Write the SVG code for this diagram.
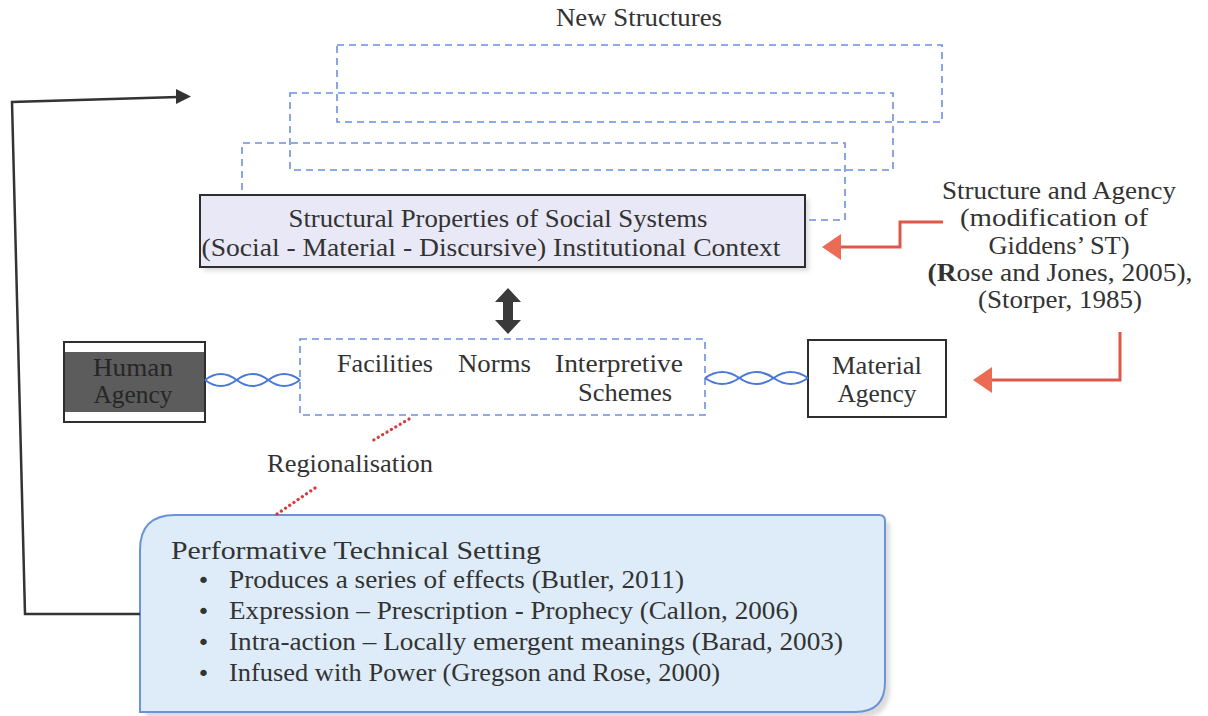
<svg xmlns="http://www.w3.org/2000/svg" width="1208" height="716" viewBox="0 0 1208 716">
  <defs>
    <style>
      .t { font-family: "Liberation Serif", "DejaVu Serif", serif; font-size: 25px; fill: #333; }
      .c { text-anchor: middle; }
      .bullet { font-family: "DejaVu Sans", sans-serif; font-size: 22px; fill: #333; }
      .dash { fill: none; stroke: #6b8fdf; stroke-width: 1.6; stroke-dasharray: 7 5; }
      .rope { fill: none; stroke: #4a78d8; stroke-width: 2; }
      .ropeshadow { fill: none; stroke: #b8b0c8; stroke-width: 3; opacity: 0.6; }
      .red { fill: none; stroke: #e0564a; stroke-width: 3; }
      .head { fill: #ec6b55; }
      .dots { fill: none; stroke: #d83a3a; stroke-width: 3.2; stroke-dasharray: 0.1 5; stroke-linecap: round; }
      .box { stroke: #2e2e2e; stroke-width: 2; }
    </style>
    <filter id="soft" x="-10%" y="-10%" width="130%" height="130%">
      <feGaussianBlur stdDeviation="2"/>
    </filter>
  </defs>

  <!-- overlapping dashed frames for the new structures -->
  <g id="new-structures">
    <text class="t c" x="639" y="26" font-size="23" textLength="166" lengthAdjust="spacingAndGlyphs">New Structures</text>
    <rect class="dash" x="337" y="45" width="605" height="77"/>
    <rect class="dash" x="290" y="93" width="603" height="77"/>
    <path class="dash" d="M242,190 V143 H845 V220 H805"/>
  </g>

  <!-- structural properties box -->
  <g id="structural-properties">
    <rect x="204" y="199" width="605" height="72" fill="#aaa" opacity="0.4" filter="url(#soft)"/>
    <rect class="box" x="200" y="195" width="605" height="72" fill="#e9e8f6"/>
    <text class="t c" x="498" y="227" textLength="419" lengthAdjust="spacingAndGlyphs">Structural Properties of Social Systems</text>
    <text class="t c" x="491" y="256" textLength="579" lengthAdjust="spacingAndGlyphs">(Social - Material - Discursive) Institutional Context</text>
  </g>

  <!-- human agency -->
  <g id="human-agency">
    <rect class="box" x="64" y="342" width="141" height="80" fill="#ffffff"/>
    <rect x="65" y="352" width="139" height="60" fill="#5c5c5c"/>
    <text class="t c" x="133" y="376" style="fill:#262626" font-size="26" textLength="80" lengthAdjust="spacingAndGlyphs">Human</text>
    <text class="t c" x="133" y="403" style="fill:#262626" font-size="26" textLength="79" lengthAdjust="spacingAndGlyphs">Agency</text>
  </g>

  <!-- facilities / norms / interpretive schemes -->
  <g id="modalities">
    <rect class="dash" x="300" y="339" width="405" height="76"/>
    <text class="t" x="337" y="372" textLength="96" lengthAdjust="spacingAndGlyphs">Facilities</text>
    <text class="t" x="458" y="372" textLength="73" lengthAdjust="spacingAndGlyphs">Norms</text>
    <text class="t" x="555" y="372" textLength="128" lengthAdjust="spacingAndGlyphs">Interpretive</text>
    <text class="t" x="578" y="401" textLength="94" lengthAdjust="spacingAndGlyphs">Schemes</text>
  </g>

  <!-- material agency -->
  <g id="material-agency">
    <rect class="box" x="808" y="340" width="138" height="77" fill="#ffffff"/>
    <text class="t c" x="877" y="374" textLength="90" lengthAdjust="spacingAndGlyphs">Material</text>
    <text class="t c" x="877" y="402" textLength="79" lengthAdjust="spacingAndGlyphs">Agency</text>
  </g>

  <!-- structure and agency reference -->
  <g id="structure-agency">
    <text class="t c" x="1059" y="199" textLength="234" lengthAdjust="spacingAndGlyphs">Structure and Agency</text>
    <text class="t c" x="1054" y="226" textLength="188" lengthAdjust="spacingAndGlyphs">(modification of</text>
    <text class="t c" x="1059" y="254" textLength="141" lengthAdjust="spacingAndGlyphs">Giddens’ ST)</text>
    <text class="t c" x="1060" y="281" textLength="265" lengthAdjust="spacingAndGlyphs"><tspan font-weight="bold">(R</tspan>ose and Jones, 2005),</text>
    <text class="t c" x="1060" y="308" textLength="164" lengthAdjust="spacingAndGlyphs">(Storper, 1985)</text>
  </g>

  <!-- regionalisation label -->
  <g id="regionalisation">
    <text class="t" x="267" y="472" textLength="166" lengthAdjust="spacingAndGlyphs">Regionalisation</text>
  </g>

  <!-- performative technical setting -->
  <g id="performative-setting">
    <path d="M180,521 H884 Q890,521 890,527 V688 Q890,718 860,718 H146 V556 Q146,521 180,521 Z" fill="#999" opacity="0.35" filter="url(#soft)"/>
    <path d="M175,515 H879 Q885,515 885,521 V682 Q885,712 855,712 H140 V550 Q140,515 175,515 Z" fill="#ddecf8" stroke="#6a93d8" stroke-width="2"/>
    <text class="t" x="171" y="559" textLength="370" lengthAdjust="spacingAndGlyphs">Performative Technical Setting</text>
    <text class="bullet" x="197" y="588">•</text>
    <text class="t" x="229" y="588" textLength="455" lengthAdjust="spacingAndGlyphs">Produces a series of effects (Butler, 2011)</text>
    <text class="bullet" x="197" y="619">•</text>
    <text class="t" x="229" y="619" textLength="569" lengthAdjust="spacingAndGlyphs">Expression – Prescription - Prophecy (Callon, 2006)</text>
    <text class="bullet" x="197" y="650">•</text>
    <text class="t" x="229" y="650" textLength="614" lengthAdjust="spacingAndGlyphs">Intra-action – Locally emergent meanings (Barad, 2003)</text>
    <text class="bullet" x="197" y="681">•</text>
    <text class="t" x="229" y="681" textLength="491" lengthAdjust="spacingAndGlyphs">Infused with Power (Gregson and Rose, 2000)</text>
  </g>

  <!-- connectors -->
  <g id="connectors">
    <!-- feedback loop to new structures -->
    <path d="M140,614 H25 L12,102 L178,97" fill="none" stroke="#333" stroke-width="2.5"/>
    <path d="M191,96.5 L176,89 L176,104 Z" fill="#333"/>

    <!-- two-way link structure / modalities -->
    <path d="M508,288 L521,302 L513,302 L513,320 L521,320 L508,334 L495,320 L503,320 L503,302 L495,302 Z" fill="#3a3a3a"/>

    <!-- twisted links between agencies and modalities -->
    <path class="ropeshadow" d="M207,386 H300" filter="url(#soft)"/>
    <path class="rope" d="M205,380 c10.5,-8 21.1,-8 31.67,0 c10.5,8 21.1,8 31.67,0 c10.5,-8 21.1,-8 31.67,0"/>
    <path class="rope" d="M205,380 c10.5,8 21.1,8 31.67,0 c10.5,-8 21.1,-8 31.67,0 c10.5,8 21.1,8 31.67,0"/>
    <path class="ropeshadow" d="M707,384 H808" filter="url(#soft)"/>
    <path class="rope" d="M705,378 c11.4,-8 22.9,-8 34.33,0 c11.4,8 22.9,8 34.33,0 c11.4,-8 22.9,-8 34.33,0"/>
    <path class="rope" d="M705,378 c11.4,8 22.9,8 34.33,0 c11.4,-8 22.9,-8 34.33,0 c11.4,8 22.9,8 34.33,0"/>

    <!-- regionalisation dotted links -->
    <path class="dots" d="M409,419 L372,441"/>
    <path class="dots" d="M315,488 L277,514"/>

    <!-- red reference arrows -->
    <path class="red" d="M943,222 H900 V247 H838"/>
    <path class="head" d="M822,247 L841,234 L841,260 Z"/>
    <path class="red" d="M1120,332 V380 H990"/>
    <path class="head" d="M973,380 L992,367 L992,393 Z"/>
  </g>
</svg>
